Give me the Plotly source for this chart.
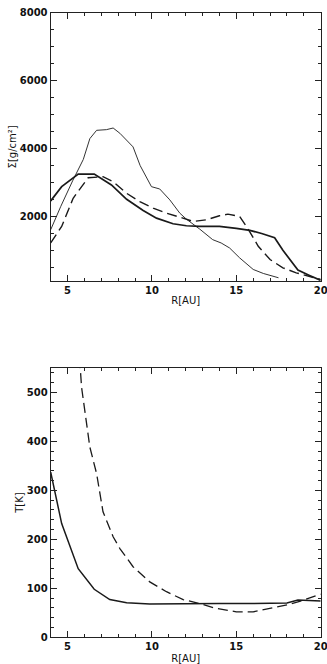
import plotly.graph_objects as go

# ---- data: surface density (top panel) ----
r_sig_thick = [4.0, 4.65, 5.63, 6.58, 7.6, 8.5, 9.48, 10.27, 11.25, 12.04, 12.83, 14.0, 15.0, 15.8, 16.5, 17.27, 17.76, 18.65, 19.34, 20.0]
sig_thick   = [2459, 2878, 3249, 3249, 2927, 2507, 2176, 1950, 1785, 1727, 1707, 1707, 1650, 1590, 1500, 1376, 1005, 420, 263, 117]

r_sig_thin = [4.0, 4.6, 5.3, 5.93, 6.32, 6.72, 7.3, 7.7, 8.1, 8.5, 8.88, 9.3, 9.97, 10.46, 11.06, 11.65, 12.04, 12.83, 13.6, 14.1, 14.6, 15.2, 16.0, 16.6, 17.5]
sig_thin   = [1610, 2300, 3050, 3678, 4293, 4537, 4556, 4605, 4450, 4244, 4049, 3500, 2878, 2810, 2488, 2098, 1922, 1629, 1317, 1220, 1073, 780, 440, 322, 195]

r_sig_dash = [4.0, 4.65, 5.33, 6.22, 7.1, 7.7, 8.5, 9.28, 10.07, 10.86, 11.65, 12.44, 13.22, 14.0, 14.5, 15.2, 15.7, 16.3, 17.0, 17.76, 18.55, 19.34, 20.0]
sig_dash   = [1220, 1707, 2537, 3141, 3170, 3024, 2683, 2439, 2244, 2098, 1980, 1854, 1902, 2020, 2068, 2000, 1630, 1122, 732, 488, 341, 224, 146]

# ---- data: temperature (bottom panel) ----
r_t_solid = [4.0, 4.65, 5.63, 6.58, 7.5, 8.5, 9.87, 11.8, 14.0, 16.0, 18.0, 18.65, 19.3, 20.0]
t_solid   = [337, 232, 140, 98, 77, 70.5, 67.8, 69, 69, 69, 70, 76, 75, 74]

r_t_dash = [5.65, 5.83, 6.32, 6.72, 7.1, 7.7, 8.1, 8.88, 9.87, 10.86, 11.85, 12.8, 13.8, 15.0, 16.0, 17.0, 18.0, 19.0, 20.0]
t_dash   = [600, 510, 388, 334, 256, 205, 181, 144, 113, 93, 77, 69, 59, 52, 52, 59, 66, 76, 88]

x_ticks = [5, 10, 15, 20]
sig_ticks = [2000, 4000, 6000, 8000]
t_ticks = [0, 100, 200, 300, 400, 500]

line_col = "#1a1a1a"
axis_col = "#222222"
font_fam = "DejaVu Sans"

fig = go.Figure()
fig.add_trace(go.Scatter(x=r_sig_thin, y=sig_thin, mode="lines", line=dict(color="#333", width=1), xaxis="x", yaxis="y"))
fig.add_trace(go.Scatter(x=r_sig_thick, y=sig_thick, mode="lines", line=dict(color=line_col, width=1.7), xaxis="x", yaxis="y"))
fig.add_trace(go.Scatter(x=r_sig_dash, y=sig_dash, mode="lines", line=dict(color=line_col, width=1.4, dash="10px,5px"), xaxis="x", yaxis="y"))
fig.add_trace(go.Scatter(x=r_t_solid, y=t_solid, mode="lines", line=dict(color=line_col, width=1.5), xaxis="x2", yaxis="y2"))
fig.add_trace(go.Scatter(x=r_t_dash, y=t_dash, mode="lines", line=dict(color=line_col, width=1.3, dash="10px,5px"), xaxis="x2", yaxis="y2"))

tickfont = dict(family=font_fam, size=10, color="#111", weight="bold")
titlefont = dict(family=font_fam, size=10, color="#111")

common_axis = dict(showgrid=False, zeroline=False, showline=True, linecolor=axis_col, linewidth=1.2,
                   mirror="ticks", ticks="inside", ticklen=6, tickwidth=1, tickcolor=axis_col,
                   tickfont=tickfont, ticklabeloverflow="allow", automargin=False)

xdom = [50.7 / 327, 320.7 / 327]
fig.update_layout(
    width=327, height=664, margin=dict(l=0, r=0, t=0, b=0, autoexpand=False),
    paper_bgcolor="white", plot_bgcolor="white", showlegend=False,
    xaxis=dict(common_axis, domain=xdom, range=[4, 20.0001], tickvals=x_ticks, anchor="y",
               minor=dict(ticks="inside", ticklen=3, dtick=1, tick0=0, tickcolor=axis_col),
               title=dict(text="R[AU]", font=titlefont, standoff=1)),
    yaxis=dict(common_axis, domain=[1 - 281 / 664, 1 - 12.7 / 664], range=[100, 8000.5], tickvals=sig_ticks, anchor="x",
               minor=dict(ticks="inside", ticklen=3, dtick=500, tick0=0, tickcolor=axis_col),
               title=dict(text="Σ[g/cm²]", font=titlefont, standoff=1)),
    xaxis2=dict(common_axis, domain=xdom, range=[4, 20.0001], tickvals=x_ticks, anchor="y2",
                minor=dict(ticks="inside", ticklen=3, dtick=1, tick0=0, tickcolor=axis_col),
                title=dict(text="R[AU]", font=titlefont, standoff=9)),
    yaxis2=dict(common_axis, domain=[1 - 637.3 / 664, 1 - 367.7 / 664], range=[0, 550], tickvals=t_ticks, anchor="x2",
                minor=dict(ticks="inside", ticklen=3, dtick=20, tick0=0, tickcolor=axis_col),
                title=dict(text="T[K]", font=titlefont, standoff=1)),
)

fig.write_html("out.html")
